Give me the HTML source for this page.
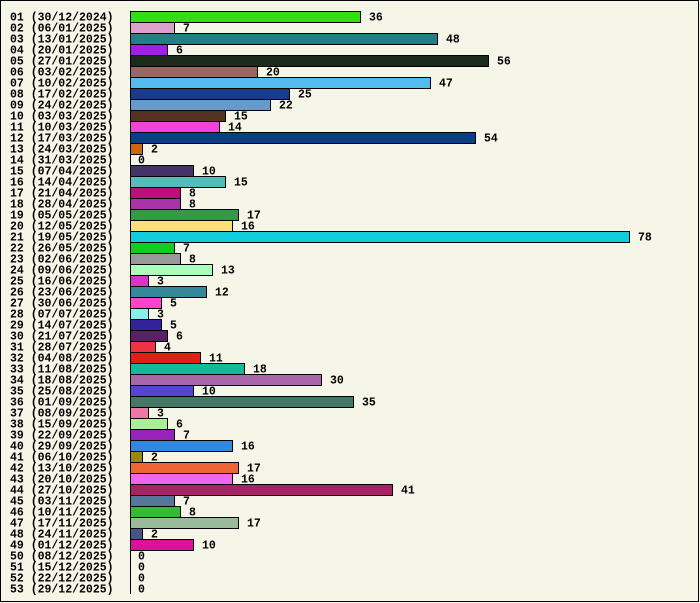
<!DOCTYPE html>
<html><head><meta charset="utf-8"><style>
html,body{margin:0;padding:0;background:#f5f5e8;}
svg{display:block}
text{font-family:"Liberation Mono","DejaVu Sans Mono",monospace;font-weight:bold;font-size:11.5px;fill:#000}
</style></head><body>
<svg id="c" width="700" height="603" xmlns="http://www.w3.org/2000/svg">
<rect x="0.5" y="0.5" width="698" height="601" fill="#f5f5e8" stroke="#000" stroke-width="1"/>
</svg>
<script>
var d=[["30/12/2024",36,"#33dd11"],["06/01/2025",7,"#dda0cc"],["13/01/2025",48,"#237f86"],["20/01/2025",6,"#a020e8"],["27/01/2025",56,"#1b2a1a"],["03/02/2025",20,"#9a6565"],["10/02/2025",47,"#55bbee"],["17/02/2025",25,"#1a3a8a"],["24/02/2025",22,"#6699cc"],["03/03/2025",15,"#553322"],["10/03/2025",14,"#ee44dd"],["17/03/2025",54,"#0a3f88"],["24/03/2025",2,"#cc6611"],["31/03/2025",0,"#000"],["07/04/2025",10,"#443366"],["14/04/2025",15,"#55bbbb"],["21/04/2025",8,"#bb1177"],["28/04/2025",8,"#aa33aa"],["05/05/2025",17,"#339944"],["12/05/2025",16,"#ffdd77"],["19/05/2025",78,"#11ccdd"],["26/05/2025",7,"#11cc22"],["02/06/2025",8,"#999999"],["09/06/2025",13,"#aaffbb"],["16/06/2025",3,"#dd33cc"],["23/06/2025",12,"#338899"],["30/06/2025",5,"#ff44cc"],["07/07/2025",3,"#88eeee"],["14/07/2025",5,"#332299"],["21/07/2025",6,"#552266"],["28/07/2025",4,"#ee3344"],["04/08/2025",11,"#dd2211"],["11/08/2025",18,"#11bb99"],["18/08/2025",30,"#aa66aa"],["25/08/2025",10,"#5544cc"],["01/09/2025",35,"#447766"],["08/09/2025",3,"#ee77aa"],["15/09/2025",6,"#aaee99"],["22/09/2025",7,"#9922bb"],["29/09/2025",16,"#3388dd"],["06/10/2025",2,"#998811"],["13/10/2025",17,"#ee6633"],["20/10/2025",16,"#ee66ee"],["27/10/2025",41,"#aa2266"],["03/11/2025",7,"#557799"],["10/11/2025",8,"#33bb33"],["17/11/2025",17,"#99bb99"],["24/11/2025",2,"#445588"],["01/12/2025",10,"#dd1199"],["08/12/2025",0,"#000"],["15/12/2025",0,"#000"],["22/12/2025",0,"#000"],["29/12/2025",0,"#000"]];
var s="",k=500/78;
d.forEach(function(r,i){
 var y=11+i*11,w=Math.round(r[1]*k),n=(i+1<10?"0":"")+(i+1);
 s+='<text x="10" y="'+(y+9.5)+'">'+n+' ('+r[0]+')</text>';
 if(w>0)s+='<rect x="130.5" y="'+(y+0.5)+'" width="'+(w-1)+'" height="11" fill="'+r[2]+'" stroke="#000"/>';
 s+='<text x="'+(130+w+8)+'" y="'+(y+9.5)+'">'+r[1]+'</text>';
});
s+='<line x1="130.5" y1="11" x2="130.5" y2="594" stroke="#000"/>';
document.getElementById("c").insertAdjacentHTML("beforeend",s);
</script>
</body></html>
